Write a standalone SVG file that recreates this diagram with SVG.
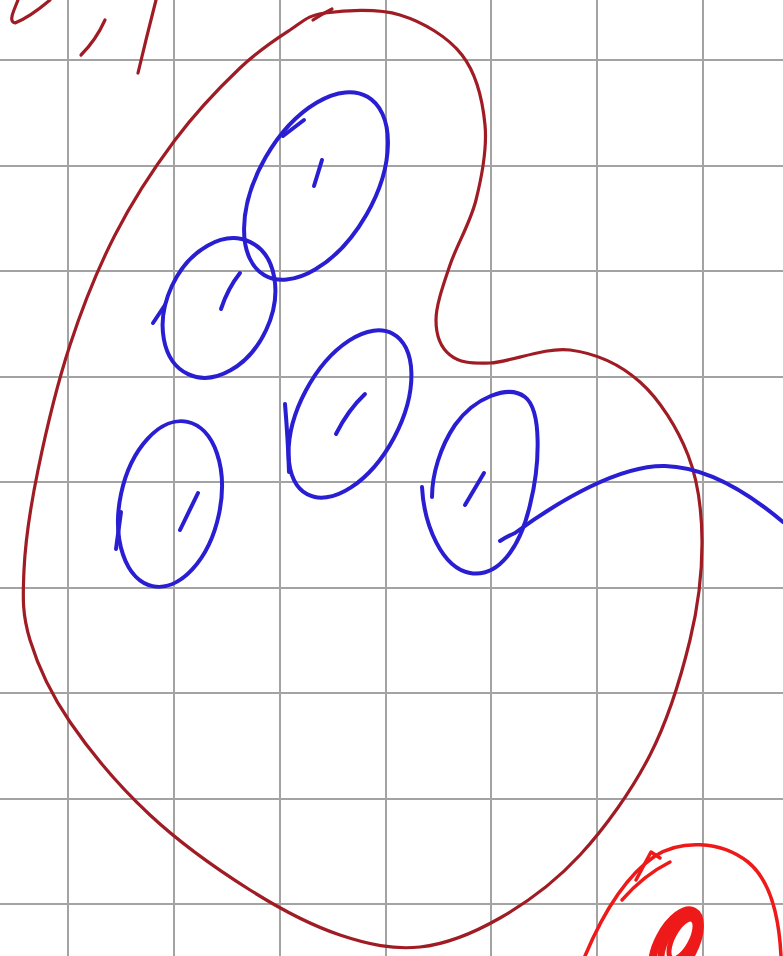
<svg xmlns="http://www.w3.org/2000/svg" width="783" height="956" viewBox="0 0 783 956">
<style>
.grid line{stroke:#a3a3a3;stroke-width:2}
.dred{fill:none;stroke:#a01c24;stroke-width:3.2;stroke-linecap:round;stroke-linejoin:round}
.bred{fill:none;stroke:#ee1a1a;stroke-width:3.5;stroke-linecap:round;stroke-linejoin:round}
.blue{fill:none;stroke:#2a1ed2;stroke-width:4;stroke-linecap:round;stroke-linejoin:round}
</style>
<rect width="783" height="956" fill="#ffffff"/>
<g class="grid">
<line x1="68" y1="0" x2="68" y2="956"/>
<line x1="174" y1="0" x2="174" y2="956"/>
<line x1="280" y1="0" x2="280" y2="956"/>
<line x1="386" y1="0" x2="386" y2="956"/>
<line x1="491" y1="0" x2="491" y2="956"/>
<line x1="597" y1="0" x2="597" y2="956"/>
<line x1="703" y1="0" x2="703" y2="956"/>
<line x1="0" y1="60" x2="783" y2="60"/>
<line x1="0" y1="166" x2="783" y2="166"/>
<line x1="0" y1="271" x2="783" y2="271"/>
<line x1="0" y1="377" x2="783" y2="377"/>
<line x1="0" y1="482" x2="783" y2="482"/>
<line x1="0" y1="588" x2="783" y2="588"/>
<line x1="0" y1="693" x2="783" y2="693"/>
<line x1="0" y1="799" x2="783" y2="799"/>
<line x1="0" y1="904" x2="783" y2="904"/>
</g>
<g id="marks-topleft" class="dred">
<path d="M 50 0 Q 30 17 15 23 Q 9 22 14 10 L 18 0"/>
<path d="M 105 20 Q 96 40 81 55"/>
<path d="M 156 0 Q 147 35 138 73"/>
</g>
<g id="region">
<path class="dred" d="M 325 13 C 343.3 10.5 377.2 8 400 15 C 422.8 22 447.8 36.7 462 55 C 476.2 73.3 482.7 100.8 485 125 C 487.3 149.2 481.8 176.7 476 200 C 470.2 223.3 456.7 245 450 265 C 443.3 285 436 305 436 320 C 436 335 441 347.8 450 355 C 459 362.2 470 363.8 490 363 C 510 362.2 545 346.8 570 350 C 595 353.2 620.3 364.5 640 382 C 659.7 399.5 677.7 428.7 688 455 C 698.3 481.3 701.7 509.2 702 540 C 702.3 570.8 698.7 604.2 690 640 C 681.3 675.8 668.3 719.2 650 755 C 631.7 790.8 605 827.8 580 855 C 555 882.2 526.7 902.7 500 918 C 473.3 933.3 446.7 944.2 420 947 C 393.3 949.8 368.3 944.5 340 935 C 311.7 925.5 281.7 910 250 890 C 218.3 870 180 843 150 815 C 120 787 90 751.2 70 722 C 50 692.8 37.7 665.3 30 640 C 22.3 614.7 22.7 598.3 24 570 C 25.3 541.7 30.3 507.5 38 470 C 45.7 432.5 57.2 384.2 70 345 C 82.8 305.8 97.5 269.2 115 235 C 132.5 200.8 154.2 167.8 175 140 C 195.8 112.2 220.8 86.3 240 68 C 259.2 49.7 275.8 39.2 290 30 C 304.2 20.8 307 15.5 325 13"/>
<path class="dred" d="M 313 20 Q 322 14 332 9"/>
</g>
<g id="node-1" class="blue">
<ellipse cx="316" cy="186" rx="103" ry="58" transform="rotate(-60 316 186)"/>
<path d="M 283 136 L 304 120"/>
<path d="M 322 160 L 314 186"/>
</g>
<g id="node-2" class="blue">
<ellipse cx="219" cy="308" rx="73" ry="52" transform="rotate(-65 219 308)"/>
<path d="M 153 323 L 165 305"/>
<path d="M 240 273 Q 228 288 221 309"/>
</g>
<g id="node-3" class="blue">
<ellipse cx="170" cy="504" rx="84" ry="50" transform="rotate(-78 170 504)"/>
<path d="M 121 512 L 116 549"/>
<path d="M 198 493 L 180 530"/>
</g>
<g id="node-4" class="blue">
<ellipse cx="350" cy="414" rx="91" ry="50" transform="rotate(-62 350 414)"/>
<path d="M 285 404 Q 288 440 289 472"/>
<path d="M 365 394 Q 348 410 336 434"/>
</g>
<g id="node-5" class="blue">
<path d="M 422 487 C 424 525 442 568 470 573 C 498 578 520 548 530 505 C 540 465 542 410 525 397 C 508 384 474 398 455 425 C 440 447 432 475 432 497"/>
<path d="M 484 473 L 465 505"/>
</g>
<g id="connectors">
<path class="blue" d="M 500 541 Q 508 536 515 533 C 560 500 620 465 665 466 C 705 467 745 490 783 522"/>
</g>
<g id="spiral" class="bred">
<path d="M 585 956 C 598 925 620 880 655 856 C 680 840 720 840 748 862 C 770 880 779 915 781 956"/>
<path d="M 670 862 C 650 872 635 885 622 900"/>
<path d="M 636 880 L 651 852 L 660 858"/>
<ellipse cx="676" cy="945" rx="38" ry="18" transform="rotate(-62 676 945)" stroke-width="8"/>
<ellipse cx="679" cy="942" rx="30" ry="13" transform="rotate(-62 679 942)" stroke-width="7"/>
<ellipse cx="682" cy="939" rx="22" ry="9" transform="rotate(-62 682 939)" stroke-width="5"/>
</g>
</svg>
